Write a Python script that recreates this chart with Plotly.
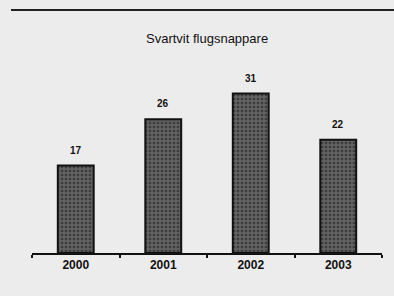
import plotly.graph_objects as go

years = ["2000", "2001", "2002", "2003"]
counts = [17, 26, 31, 22]
title_text = "Svartvit flugsnappare"

bg = "#ececec"
fig = go.Figure()
fig.add_trace(go.Bar(
    x=years, y=counts, width=0.41,
    marker=dict(color="#616161", line=dict(color="#111111", width=2),
                pattern=dict(shape=".", fgcolor="#3c3c3c", bgcolor="#616161",
                             size=4, solidity=0.35, fillmode="replace")),
    hoverinfo="skip",
))
for i, v in enumerate(counts):
    fig.add_annotation(x=i, y=v, text="<b>%d</b>" % v, showarrow=False,
                       yanchor="bottom", yshift=8,
                       font=dict(family="Liberation Sans, Arial", size=10, color="#111"))

fig.add_annotation(xref="paper", yref="paper", x=0.5, y=1.189, text=title_text,
                   showarrow=False, xanchor="center", yanchor="middle",
                   font=dict(family="Liberation Sans, Arial", size=13, color="#111"))
fig.add_shape(type="line", xref="paper", yref="paper", x0=-0.06, x1=1.04, y0=1.35, y1=1.35,
              line=dict(color="#222", width=2))

fig.update_layout(
    width=394, height=296,
    margin=dict(l=32, r=12, t=73, b=43, autoexpand=False),
    paper_bgcolor=bg, plot_bgcolor=bg,
    showlegend=False, bargap=0.59,
    xaxis=dict(type="category", range=[-0.5, 3.5], showline=True, linecolor="#111", linewidth=1.5,
               ticks="outside", tickson="boundaries", ticklen=3, tickcolor="#111", tickwidth=1.5,
               showgrid=False, zeroline=False,
               tickfont=dict(family="Liberation Sans, Arial", size=12, color="#111"),
               tickvals=years, ticktext=["<b>%s</b>" % y for y in years]),
    yaxis=dict(range=[0, 35], visible=False, showgrid=False, zeroline=False),
)
fig.write_html("out.html", config={"displayModeBar": False},
               post_script="document.body.style.margin='0';document.body.style.background='%s';" % bg)
